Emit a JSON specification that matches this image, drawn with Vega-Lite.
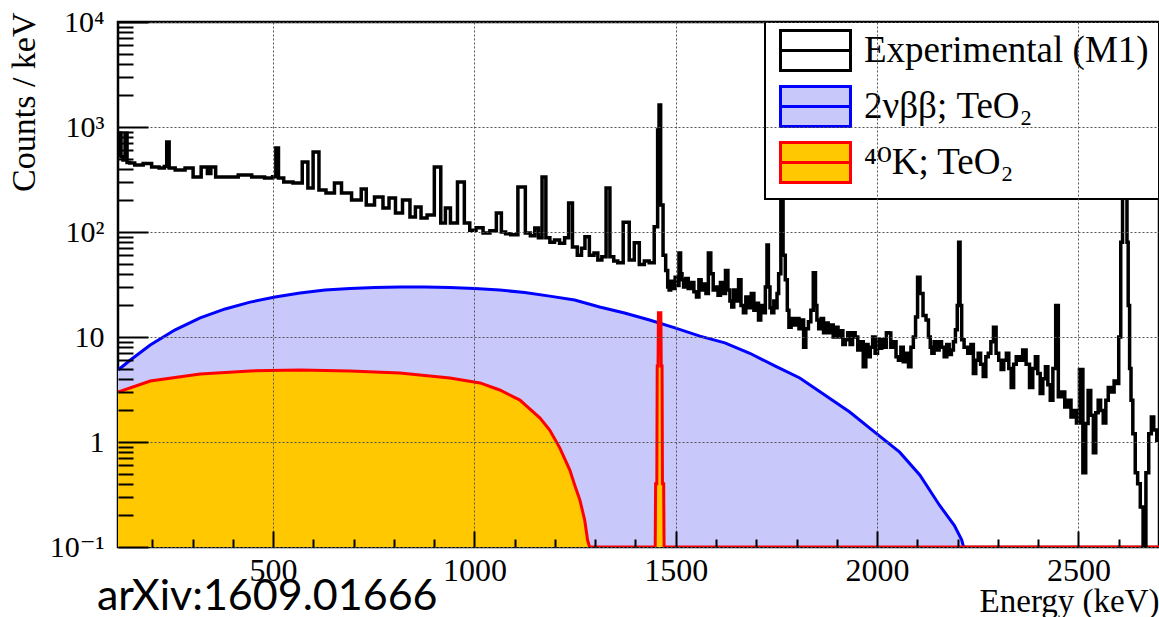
{
 "$schema": "https://vega.github.io/schema/vega-lite/v6.json",
 "width": 1041,
 "height": 525,
 "autosize": {"type": "none"},
 "padding": {"left": 118, "top": 22, "right": 0, "bottom": 70},
 "background": "white",
 "config": {
  "view": {"stroke": "black", "strokeWidth": 2.5},
  "font": "Liberation Serif",
  "legend": {"strokeWidth": 2}
 },
 "title": {"text": "arXiv:1609.01666", "orient": "bottom", "anchor": "start", "frame": "group", "font": "Lato", "fontSize": 43, "fontWeight": "normal", "color": "black", "dx": -21, "offset": -8, "baseline": "alphabetic"},
 "datasets": {
  "exp": [
   {"E":115,"c":541},{"E":120,"c":877},{"E":125,"c":520},{"E":130,"c":485},{"E":135,"c":870},{"E":140,"c":460},{"E":148,"c":454},{"E":165,"c":435},{"E":190,"c":450},{"E":207,"c":416},{"E":227,"c":407},{"E":233,"c":420},{"E":239,"c":720},{"E":245,"c":407},{"E":269,"c":389},{"E":294,"c":407},{"E":309,"c":334},{"E":334,"c":416},{"E":340,"c":360},{"E":351,"c":416},{"E":364,"c":334},{"E":396,"c":334},{"E":431,"c":349},{"E":463,"c":334},{"E":495,"c":327},{"E":503,"c":335},{"E":511,"c":631},{"E":516,"c":327},{"E":537,"c":299},{"E":562,"c":293},{"E":583,"c":464},{"E":590,"c":262},{"E":609,"c":578},{"E":619,"c":251},{"E":644,"c":235},{"E":661,"c":293},{"E":679,"c":235},{"E":711,"c":202},{"E":727,"c":257},{"E":736,"c":181},{"E":768,"c":215},{"E":778,"c":169},{"E":798,"c":211},{"E":810,"c":152},{"E":833,"c":202},{"E":847,"c":139},{"E":860,"c":173},{"E":875,"c":136},{"E":890,"c":145},{"E":911,"c":416},{"E":922,"c":122},{"E":934,"c":169},{"E":947,"c":122},{"E":969,"c":299},{"E":981,"c":122},{"E":996,"c":104},{"E":1012,"c":110},{"E":1031,"c":98},{"E":1046,"c":103},{"E":1063,"c":152},{"E":1071,"c":100},{"E":1084,"c":96},{"E":1096,"c":94},{"E":1120,"c":268},{"E":1133,"c":98},{"E":1145,"c":92},{"E":1155,"c":109},{"E":1163,"c":88},{"E":1173,"c":334},{"E":1182,"c":88},{"E":1193,"c":80},{"E":1205,"c":84},{"E":1218,"c":78},{"E":1230,"c":88},{"E":1238,"c":189},{"E":1249,"c":72},{"E":1262,"c":60},{"E":1270,"c":70},{"E":1279,"c":90},{"E":1292,"c":60},{"E":1302,"c":63},{"E":1311,"c":54},{"E":1322,"c":58},{"E":1332,"c":262},{"E":1341,"c":58},{"E":1351,"c":53},{"E":1361,"c":51},{"E":1378,"c":124},{"E":1391,"c":54},{"E":1403,"c":79},{"E":1416,"c":49},{"E":1428,"c":53},{"E":1440,"c":51},{"E":1453,"c":112},{"E":1457,"c":936},{"E":1460,"c":1622},{"E":1465,"c":181},{"E":1472,"c":60},
   {"E":1478,"c":43},{"E":1482,"c":30},{"E":1485,"c":28},{"E":1490,"c":34},{"E":1495,"c":29},{"E":1502,"c":37},{"E":1506,"c":31},{"E":1510,"c":63},{"E":1514,"c":40},{"E":1517,"c":35},{"E":1522,"c":30},{"E":1528,"c":36},{"E":1534,"c":29},{"E":1542,"c":33},{"E":1548,"c":27},{"E":1555,"c":24},{"E":1560,"c":35},{"E":1566,"c":28},{"E":1572,"c":32},{"E":1578,"c":26},{"E":1584,"c":63},{"E":1590,"c":40},{"E":1596,"c":28},{"E":1602,"c":30},{"E":1608,"c":25},{"E":1614,"c":33},{"E":1620,"c":26},{"E":1627,"c":43},{"E":1632,"c":28},{"E":1637,"c":22},{"E":1641,"c":19.3},{"E":1647,"c":28},{"E":1653,"c":22},{"E":1659,"c":35},{"E":1665,"c":20},{"E":1671,"c":17},{"E":1677,"c":24},{"E":1684,"c":19},{"E":1691,"c":26},{"E":1697,"c":18},{"E":1703,"c":21},{"E":1708,"c":14.5},{"E":1714,"c":20},{"E":1720,"c":17},{"E":1725,"c":30},{"E":1728,"c":75},{"E":1732,"c":30},{"E":1736,"c":19},{"E":1741,"c":17},{"E":1746,"c":22},{"E":1750,"c":19},{"E":1753,"c":26},{"E":1758,"c":40},{"E":1764,"c":250},{"E":1769,"c":60},{"E":1775,"c":35},{"E":1779,"c":18},{"E":1783,"c":12.4},{"E":1790,"c":15},{"E":1797,"c":13},{"E":1803,"c":15},{"E":1809,"c":12},{"E":1815,"c":14.5},{"E":1820,"c":8},{"E":1826,"c":12},{"E":1833,"c":14},{"E":1838,"c":18},{"E":1845,"c":41},{"E":1849,"c":20},{"E":1852,"c":14.5},{"E":1858,"c":12},{"E":1864,"c":15},{"E":1870,"c":11},{"E":1875,"c":13.6},{"E":1882,"c":11},{"E":1888,"c":13},{"E":1894,"c":10},{"E":1900,"c":12.4},{"E":1906,"c":10},{"E":1912,"c":11.5},{"E":1918,"c":8.5},{"E":1924,"c":9.4},{"E":1930,"c":11},{"E":1936,"c":8.5},{"E":1942,"c":11},{"E":1949,"c":10},{"E":1955,"c":7.5},{"E":1962,"c":9},{"E":1969,"c":5.2},{"E":1975,"c":8.5},{"E":1980,"c":6.5},{"E":1986,"c":8},{"E":1992,"c":10},{"E":1998,"c":7},{"E":2004,"c":9.5},{"E":2009,"c":7.8},{"E":2014,"c":9.4},{"E":2020,"c":8},{"E":2026,"c":11},{"E":2031,"c":10.9},{"E":2037,"c":8},{"E":2044,"c":9},{"E":2050,"c":6.5},{"E":2056,"c":6},{"E":2062,"c":8},{"E":2068,"c":5.8},{"E":2075,"c":7},{"E":2081,"c":5.2},{"E":2087,"c":8},{"E":2093,"c":10},{"E":2098,"c":15.5},{"E":2103,"c":37},{"E":2110,"c":26},{"E":2118,"c":16},{"E":2125,"c":14.5},{"E":2130,"c":10},{"E":2134,"c":8},{"E":2138,"c":7},{"E":2145,"c":9},{"E":2151,"c":7.5},{"E":2157,"c":9},{"E":2163,"c":8},{"E":2170,"c":6.5},{"E":2176,"c":8.5},{"E":2182,"c":6.8},{"E":2187,"c":7.5},{"E":2192,"c":9},{"E":2197,"c":11.7},{"E":2201,"c":20},{"E":2204,"c":80},{"E":2208,"c":20},
   {"E":2212,"c":9.4},{"E":2220,"c":8},{"E":2230,"c":7},{"E":2236,"c":8.5},{"E":2242,"c":4.5},{"E":2248,"c":6},{"E":2254,"c":7},{"E":2260,"c":5.5},{"E":2267,"c":4.2},{"E":2273,"c":6.5},{"E":2279,"c":7},{"E":2286,"c":9},{"E":2292,"c":12.4},{"E":2299,"c":7},{"E":2305,"c":6},{"E":2311,"c":4.9},{"E":2318,"c":6},{"E":2324,"c":7},{"E":2330,"c":5},{"E":2336,"c":3.3},{"E":2342,"c":5.5},{"E":2349,"c":6.5},{"E":2357,"c":6},{"E":2366,"c":7.5},{"E":2374,"c":5.5},{"E":2383,"c":3.3},{"E":2390,"c":5},{"E":2396,"c":6.5},{"E":2402,"c":4.5},{"E":2408,"c":2.9},{"E":2415,"c":4},{"E":2421,"c":5.2},{"E":2427,"c":3.5},{"E":2433,"c":2.5},{"E":2440,"c":5},{"E":2447,"c":20},{"E":2453,"c":2.7},{"E":2462,"c":3},{"E":2470,"c":2.15},{"E":2478,"c":2.5},{"E":2485,"c":1.73},{"E":2492,"c":2},{"E":2498,"c":1.52},{"E":2507,"c":4.9},{"E":2515,"c":0.51},{"E":2521,"c":1.5},{"E":2527,"c":3.1},{"E":2534,"c":1.8},{"E":2540,"c":0.79},{"E":2546,"c":1.9},{"E":2552,"c":2.5},{"E":2558,"c":2},{"E":2565,"c":1.52},{"E":2571,"c":2.5},{"E":2577,"c":3.3},{"E":2585,"c":3},{"E":2592,"c":3.8},{"E":2597,"c":3.6},{"E":2603,"c":10},{"E":2607,"c":80},{"E":2612,"c":400},{"E":2619,"c":300},{"E":2622,"c":80},{"E":2625,"c":20},{"E":2629,"c":5},{"E":2632,"c":2.5},{"E":2638,"c":1.2},{"E":2644,"c":0.51},{"E":2650,"c":0.4},{"E":2657,"c":0.24},{"E":2664,"c":0.05},{"E":2671,"c":0.51},{"E":2678,"c":1.2},{"E":2684,"c":1.73},{"E":2690,"c":1.3},{"E":2699,"c":1.04}
  ],
  "bb": [
   {"E":115,"c":4.85},{"E":145,"c":6.0},{"E":195,"c":8.4},{"E":257,"c":11.7},{"E":319,"c":15.2},{"E":381,"c":18.5},{"E":443,"c":21.5},{"E":505,"c":24.0},{"E":567,"c":26.2},{"E":629,"c":28.0},{"E":691,"c":29.0},{"E":753,"c":29.6},{"E":815,"c":29.9},{"E":877,"c":29.9},{"E":939,"c":29.6},{"E":1001,"c":29.0},{"E":1063,"c":28.0},{"E":1125,"c":26.5},{"E":1187,"c":24.5},{"E":1249,"c":22.5},{"E":1311,"c":19.3},{"E":1373,"c":16.9},{"E":1435,"c":14.5},{"E":1498,"c":12.2},{"E":1560,"c":10.2},{"E":1622,"c":8.8},{"E":1684,"c":7.0},{"E":1746,"c":5.3},{"E":1808,"c":4.07},{"E":1870,"c":2.8},{"E":1932,"c":1.93},{"E":1994,"c":1.24},{"E":2056,"c":0.8},{"E":2106,"c":0.485},{"E":2155,"c":0.25},{"E":2192,"c":0.16},{"E":2210,"c":0.117},{"E":2218,"c":0.09}
  ],
  "k40": [
   {"E":115,"c":2.99},{"E":195,"c":3.81},{"E":319,"c":4.45},{"E":443,"c":4.75},{"E":567,"c":4.85},{"E":691,"c":4.75},{"E":815,"c":4.54},{"E":939,"c":4.07},{"E":1014,"c":3.65},{"E":1063,"c":3.13},{"E":1113,"c":2.51},{"E":1163,"c":1.69},{"E":1187,"c":1.3},{"E":1212,"c":0.88},{"E":1237,"c":0.54},{"E":1249,"c":0.39},{"E":1262,"c":0.28},{"E":1274,"c":0.18},{"E":1281,"c":0.117},{"E":1286,"c":0.1},{"E":1449,"c":0.1},{"E":1450,"c":0.4},{"E":1453,"c":0.4},{"E":1454,"c":5.3},{"E":1456,"c":5.3},{"E":1457,"c":17},{"E":1463,"c":17},{"E":1464,"c":5.3},{"E":1466,"c":5.3},{"E":1467,"c":0.4},{"E":1470,"c":0.4},{"E":1471,"c":0.1},{"E":2700,"c":0.1}
  ],
  "leg": [
   {"series":"Experimental (M1)"},{"series":"2νββ; TeO₂"},{"series":"⁴⁰K; TeO₂"}
  ]
 },
 "encoding": {
  "x": {"field": "E", "type": "quantitative",
   "scale": {"domain": [115, 2700], "nice": false, "zero": false},
   "axis": {
    "title": "Energy (keV)", "titleAnchor": "end", "titleFont": "Liberation Serif", "titleFontSize": 33, "titleFontWeight": "normal", "titleColor": "black", "titlePadding": -9,
    "values": [200,300,400,500,600,700,800,900,1000,1100,1200,1300,1400,1500,1600,1700,1800,1900,2000,2100,2200,2300,2400,2500,2600],
    "labelExpr": "datum.value % 500 == 0 ? '' + datum.value : ''",
    "labelFont": "Liberation Serif", "labelFontSize": 32, "labelColor": "black", "labelPadding": 24, "labelOverlap": false, "labelFlush": false, "labelBound": false,
    "tickSize": {"condition": {"test": "datum.value % 500 == 0", "value": -16}, "value": -8},
    "tickColor": "black", "tickWidth": 2,
    "grid": true, "gridColor": "#555555", "gridDash": [2, 2], "gridWidth": 1,
    "gridOpacity": {"condition": {"test": "datum.value % 500 == 0", "value": 1}, "value": 0},
    "domain": false, "zindex": 1
   }
  },
  "y": {"field": "c", "type": "quantitative",
   "scale": {"type": "log", "domain": [0.1, 10000], "nice": false},
   "axis": {
    "title": "Counts / keV", "titleAnchor": "end", "titleFont": "Liberation Serif", "titleFontSize": 34, "titleFontWeight": "normal", "titleColor": "black", "titlePadding": 8, "titleY": -10,
    "values": [0.1,0.2,0.3,0.4,0.5,0.6,0.7,0.8,0.9,1,2,3,4,5,6,7,8,9,10,20,30,40,50,60,70,80,90,100,200,300,400,500,600,700,800,900,1000,2000,3000,4000,5000,6000,7000,8000,9000,10000],
    "labelExpr": "datum.value == 10000 ? '10⁴' : datum.value == 1000 ? '10³' : datum.value == 100 ? '10²' : datum.value == 10 ? '10' : datum.value == 1 ? '1' : datum.value == 0.1 ? '10⁻¹' : ''",
    "labelFont": "Liberation Serif, DejaVu Serif", "labelFontSize": 30, "labelColor": "black", "labelPadding": 44, "labelOverlap": false, "labelFlush": false, "labelBound": false,
    "tickSize": {"condition": {"test": "datum.value == 0.1 || datum.value == 1 || datum.value == 10 || datum.value == 100 || datum.value == 1000 || datum.value == 10000", "value": -30}, "value": -15},
    "tickColor": "black", "tickWidth": 2,
    "grid": true, "gridColor": "#555555", "gridDash": [2, 2], "gridWidth": 1,
    "gridOpacity": {"condition": {"test": "datum.value == 0.1 || datum.value == 1 || datum.value == 10 || datum.value == 100 || datum.value == 1000 || datum.value == 10000", "value": 1}, "value": 0},
    "domain": false, "zindex": 1
   }
  }
 },
 "layer": [
  {
   "data": {"name": "bb"},
   "mark": {"type": "area", "color": "#c8c8fa", "clip": true},
   "encoding": {"y2": {"datum": 0.1}}
  },
  {
   "data": {"name": "bb"},
   "mark": {"type": "line", "color": "#0000ff", "strokeWidth": 3, "clip": true},
   "encoding": {}
  },
  {
   "data": {"name": "k40"},
   "mark": {"type": "area", "color": "#ffc800", "clip": true},
   "encoding": {"y2": {"datum": 0.1}}
  },
  {
   "data": {"name": "k40"},
   "mark": {"type": "line", "color": "#ff0000", "strokeWidth": 3, "clip": true},
   "encoding": {}
  },
  {
   "data": {"name": "exp"},
   "mark": {"type": "line", "color": "black", "strokeWidth": 3.5, "interpolate": "step", "clip": true},
   "encoding": {}
  },
  {
   "data": {"values": [{"t": "CUORE-0 Preliminary"}]},
   "mark": {"type": "text", "align": "left", "baseline": "alphabetic", "font": "Liberation Serif", "fontSize": 33, "color": "#b0143c"},
   "encoding": {
    "x": {"datum": 232, "type": "quantitative"},
    "y": {"datum": 4640, "type": "quantitative"},
    "text": {"field": "t"}
   }
  },
  {
   "data": {"values": [{"t": "Exposure: 33.4 kg·yr"}]},
   "mark": {"type": "text", "align": "left", "baseline": "alphabetic", "font": "Liberation Serif", "fontSize": 22.5, "color": "#b0143c"},
   "encoding": {
    "x": {"datum": 232, "type": "quantitative"},
    "y": {"datum": 2830, "type": "quantitative"},
    "text": {"field": "t"}
   }
  },
  {
   "data": {"name": "leg"},
   "mark": {"type": "point", "filled": true, "size": 10, "opacity": 1},
   "encoding": {
    "x": {"datum": 2400, "type": "quantitative"},
    "y": {"datum": 1000, "type": "quantitative"},
    "fill": {"field": "series", "type": "nominal",
     "scale": {"domain": ["Experimental (M1)", "2νββ; TeO₂", "⁴⁰K; TeO₂"], "range": ["white", "#c8c8fa", "#ffc800"]},
     "legend": {"title": null, "orient": "top-right", "offset": 0, "padding": 10, "fillColor": "white", "strokeColor": "black",
      "labelFont": "Liberation Serif, DejaVu Serif", "labelFontSize": 37, "labelColor": "black", "labelLimit": 0, "labelOffset": 30,
      "symbolSize": 400, "symbolStrokeWidth": 3, "symbolOpacity": 1, "symbolOffset": 22, "rowPadding": 3}},
    "stroke": {"field": "series", "type": "nominal",
     "scale": {"domain": ["Experimental (M1)", "2νββ; TeO₂", "⁴⁰K; TeO₂"], "range": ["black", "#0000ff", "#ff0000"]}},
    "shape": {"field": "series", "type": "nominal",
     "scale": {"domain": ["Experimental (M1)", "2νββ; TeO₂", "⁴⁰K; TeO₂"], "range": ["M-3.5,-2H3.5V2H-3.5Z M-3.5,0H3.5", "M-3.5,-2H3.5V2H-3.5Z M-3.5,0H3.5", "M-3.5,-2H3.5V2H-3.5Z M-3.5,0H3.5"]}}
   }
  }
 ]
}
